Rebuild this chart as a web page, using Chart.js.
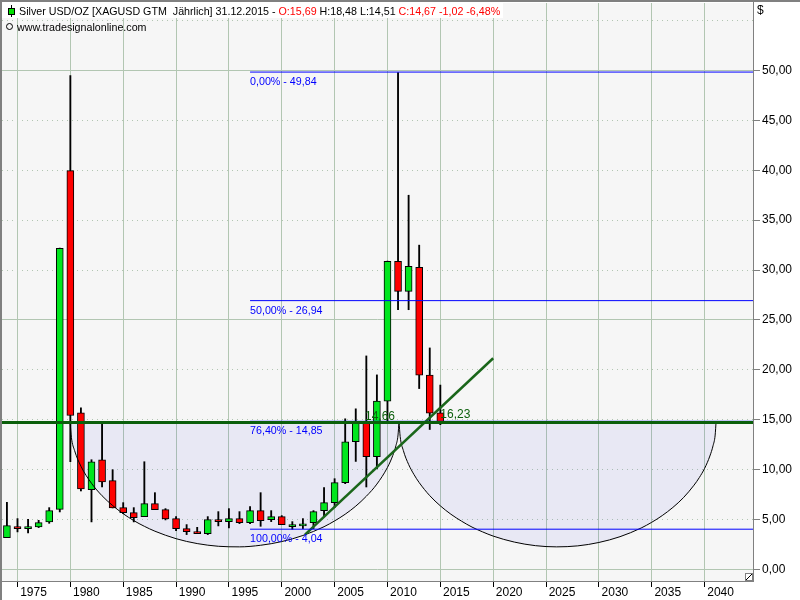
<!DOCTYPE html>
<html>
<head>
<meta charset="utf-8">
<title>Silver USD/OZ</title>
<script src="https://cdn.jsdelivr.net/npm/chart.js@4"></script>
<style>
html, body { margin: 0; padding: 0; background: #fff; }
canvas { display: block; }
</style>
</head>
<body>
<canvas id="chart" width="800" height="600"></canvas>
<script>
const years = [1974,1975,1976,1977,1978,1979,1980,1981,1982,1983,1984,1985,1986,1987,1988,1989,1990,1991,1992,1993,1994,1995,1996,1997,1998,1999,2000,2001,2002,2003,2004,2005,2006,2007,2008,2009,2010,2011,2012,2013,2014,2015];
const opens = [3.2,4.3,4.1,4.27,4.77,6.03,39.97,15.7,8.0,11.0,8.9,6.2,5.7,5.3,6.6,6.0,5.1,4.1,3.8,3.6,5.0,4.8,5.1,4.7,5.9,5.0,5.3,4.5,4.57,4.7,5.9,6.7,8.7,12.8,14.7,11.3,16.87,30.87,27.87,30.27,19.47,15.69];
const closes = [4.4,4.1,4.3,4.7,5.9,32.17,15.43,8.07,10.8,8.77,6.17,5.7,5.2,6.6,6.0,5.07,4.1,3.8,3.6,5.0,4.8,5.1,4.7,5.9,4.9,5.3,4.5,4.5,4.57,5.8,6.7,8.7,12.8,14.7,11.3,16.87,30.87,27.87,30.37,19.47,15.67,14.67];
const highs = [6.73,5.1,5.03,4.93,6.2,32.2,49.5,16.2,11.0,14.6,10.0,6.7,6.2,10.8,7.7,6.1,5.3,4.5,4.23,5.3,5.8,6.1,5.8,6.3,7.7,5.9,5.4,4.8,5.1,5.9,8.2,9.1,15.1,16.1,21.4,19.5,30.9,49.8,37.5,32.5,22.2,18.48];
const lows = [3.2,3.77,3.67,4.2,4.63,5.77,10.8,7.87,4.77,8.27,6.17,5.6,4.77,5.3,6.0,4.97,3.9,3.5,3.6,3.5,4.37,4.17,4.6,4.6,4.33,4.8,4.5,4.03,4.1,4.1,5.4,6.2,8.6,10.83,8.27,10.1,14.7,26.03,26.03,18.13,14.03,14.51];

const xTicks = [1975,1980,1985,1990,1995,2000,2005,2010,2015,2020,2025,2030,2035,2040];
const yTicks = [0,5,10,15,20,25,30,35,40,45,50];
const solidTicks = [0,25,50];
const dottedTicks = [5,10,15,20,30,35,40,45,55];

const fibValues = [49.84,26.94,14.85,4.04];
const fibLabels = ['0,00% - 49,84','50,00% - 26,94','76,40% - 14,85','100,00% - 4,04'];
const fibStart = 1997;
const supportLevel = 14.74;

const trendYears = [2002.2,2020];
const trendValues = [3.5,21.17];

const arc1Years = [1979.97,1980.1,1980.4,1981,1982,1983,1984,1985,1986,1987,1988,1990,1992,1994,1996,1998,2000,2002,2004,2005,2006,2007,2008,2009,2010,2010.5,2010.8,2011,2011.09];
const arc1Values = [14.85,13.23,11.92,10.35,8.64,7.39,6.41,5.59,4.9,4.33,3.84,3.09,2.6,2.33,2.27,2.43,2.8,3.41,4.29,4.87,5.54,6.35,7.34,8.56,10.23,11.42,12.41,13.48,14.85];
const arc2Years = [2011.09,2011.2,2011.5,2012,2012.5,2013,2014,2015,2016,2017,2018,2019,2020,2022,2024,2026,2028,2030,2032,2034,2035,2036,2037,2038,2039,2039.5,2040,2040.5,2040.8,2041,2041.09];
const arc2Values = [14.85,13.33,11.93,10.53,9.53,8.71,7.4,6.38,5.54,4.85,4.25,3.77,3.35,2.75,2.39,2.27,2.37,2.71,3.29,4.16,4.73,5.41,6.22,7.2,8.45,9.21,10.13,11.37,12.4,13.47,14.85];

const lowLabel = '14,66';
const lastLabel = '16,23';

const FONT = '12px "Liberation Sans", Arial, sans-serif';
const SMALL_FONT = '10.7px "Liberation Sans", Arial, sans-serif';
const GRID = '#b2c6b2';
const DARK_GREEN = '#0b5f0b';
const BLUE = '#0000ff';
const FILL = 'rgba(50,60,230,0.07)';

function pairs(xs, ys) {
    return xs.map((x, i) => ({x: x, y: ys[i]}));
}

function level(x0, x1, v, color, width) {
    return {
        type: 'line',
        data: pairs([x0, x1], [v, v]),
        borderColor: color,
        borderWidth: width,
        pointRadius: 0,
        order: 0
    };
}

function arc(xs, ys) {
    return {
        type: 'line',
        data: pairs(xs, ys),
        borderColor: '#000',
        borderWidth: 1,
        pointRadius: 0,
        cubicInterpolationMode: 'monotone',
        fill: {value: 14.85},
        backgroundColor: FILL,
        order: 1
    };
}

// no extra room for the tick labels, the plot area has to stay where it is
function noPadding(s) {
    s.paddingTop = 0;
    s.paddingBottom = 0;
    s.paddingLeft = 0;
    s.paddingRight = 0;
}

const xMin = 1973.534;
const xMax = 2044.58;

const frame = {
    id: 'frame',
    beforeDraw(chart) {
        const c = chart.ctx, a = chart.chartArea;
        c.save();
        c.fillStyle = '#fff';
        c.fillRect(0, 0, 800, 600);
        c.fillStyle = '#f6f6f6';
        c.fillRect(a.left, a.top, a.right - a.left, a.bottom - a.top);
        c.restore();
    },
    afterDraw(chart) {
        const c = chart.ctx, a = chart.chartArea;
        const x = chart.scales.x, y = chart.scales.y;
        c.save();
        // border
        c.fillStyle = '#808080';
        c.fillRect(0, 0, 800, 2);
        c.fillRect(0, 0, 2, 600);
        c.fillRect(a.right, 2, 1, a.bottom - 2);
        c.fillRect(2, a.bottom, a.right - 1, 1);

        // resize grip
        c.fillStyle = '#fff';
        c.fillRect(745, 573, 8, 8);
        c.strokeStyle = '#808080';
        c.strokeRect(745.5, 573.5, 7, 7);
        c.strokeStyle = '#000';
        c.beginPath();
        c.moveTo(746, 580);
        c.lineTo(752, 574);
        c.stroke();

        c.font = SMALL_FONT;
        c.textBaseline = 'alphabetic';

        // header
        c.fillStyle = '#fff';
        c.fillRect(2, 2, 501, 16);
        let tx = 19;
        const parts = [
            ['Silver USD/OZ [XAGUSD GTM  Jährlich] 31.12.2015 - ', '#000'],
            ['O:15,69 ', '#f00'],
            ['H:18,48 L:14,51 ', '#000'],
            ['C:14,67 -1,02 -6,48%', '#f00']
        ];
        parts.forEach(p => {
            c.fillStyle = p[1];
            c.fillText(p[0], tx, 15);
            tx += c.measureText(p[0]).width;
        });
        c.fillStyle = '#000';
        c.fillText('www.tradesignalonline.com', 17, 31);

        // header icon
        c.fillRect(11, 5, 1, 12);
        c.fillRect(8, 8, 7, 7);
        c.fillStyle = '#00e000';
        c.fillRect(9, 9, 5, 5);

        // copyright mark
        c.strokeStyle = '#000';
        c.beginPath();
        c.arc(9.5, 26.5, 3, 0, Math.PI * 2);
        c.stroke();

        // fibonacci labels
        c.fillStyle = BLUE;
        fibLabels.forEach((t, i) => {
            c.fillText(t, x.getPixelForValue(fibStart), y.getPixelForValue(fibValues[i]) + 13);
        });

        // value labels
        c.font = FONT;
        c.fillStyle = '#000';
        c.fillText('$', 757, 14);
        c.fillStyle = DARK_GREEN;
        c.fillText(lowLabel, x.getPixelForValue(2007.87), y.getPixelForValue(15.0));
        c.fillText(lastLabel, x.getPixelForValue(2015.0), y.getPixelForValue(15.2));
        c.restore();
    }
};

new Chart(document.getElementById('chart').getContext('2d'), {
    data: {
        datasets: [
            {
                type: 'bar',
                data: years.map((yr, i) => ({x: yr, y: [lows[i], highs[i]]})),
                backgroundColor: '#000',
                barThickness: 1.2,
                grouped: false,
                order: 3
            },
            {
                type: 'bar',
                data: years.map((yr, i) => ({x: yr, y: [opens[i], closes[i]]})),
                backgroundColor: years.map((yr, i) => closes[i] >= opens[i] ? '#00e61e' : '#ff0000'),
                borderColor: '#000',
                borderWidth: 1,
                borderSkipped: false,
                barThickness: 7,
                minBarLength: 2,
                grouped: false,
                order: 2
            },
            arc(arc1Years, arc1Values),
            arc(arc2Years, arc2Values),
            level(xMin, xMax, supportLevel, DARK_GREEN, 3),
            level(fibStart, xMax, fibValues[0], BLUE, 1),
            level(fibStart, xMax, fibValues[1], BLUE, 1),
            level(fibStart, xMax, fibValues[2], BLUE, 1),
            level(fibStart, xMax, fibValues[3], BLUE, 1),
            {
                type: 'line',
                data: pairs(trendYears, trendValues),
                borderColor: '#1a661a',
                borderWidth: 2.5,
                pointRadius: 0,
                order: 0
            }
        ]
    },
    plugins: [frame],
    options: {
        responsive: false,
        devicePixelRatio: 1,
        animation: false,
        layout: {padding: {left: 2, top: 3, right: 0, bottom: 0}},
        plugins: {
            legend: {display: false},
            tooltip: {enabled: false},
            filler: {drawTime: 'beforeDatasetsDraw'}
        },
        scales: {
            x: {
                type: 'linear',
                offset: false,
                min: xMin,
                max: xMax,
                afterBuildTicks: s => { s.ticks = xTicks.map(v => ({value: v})); },
                afterFit: s => { s.height = 19; noPadding(s); },
                grid: {offset: false, color: GRID, lineWidth: 1, tickColor: '#000', tickLength: 6},
                border: {display: false},
                ticks: {
                    autoSkip: false,
                    maxRotation: 0,
                    padding: -2,
                    labelOffset: 16,
                    color: '#000',
                    font: {family: '"Liberation Sans", Arial, sans-serif', size: 12},
                    callback: v => String(v)
                }
            },
            y: {
                position: 'right',
                min: -1.15,
                max: 56.76,
                afterBuildTicks: s => { s.ticks = yTicks.map(v => ({value: v})); },
                afterFit: s => { s.width = 47; noPadding(s); },
                grid: {
                    color: c => solidTicks.includes(c.tick.value) ? GRID : 'rgba(0,0,0,0)',
                    lineWidth: 1,
                    tickColor: '#808080',
                    tickLength: 7
                },
                border: {display: false},
                ticks: {
                    padding: 2,
                    color: '#000',
                    font: {family: '"Liberation Sans", Arial, sans-serif', size: 12},
                    callback: v => v.toFixed(2).replace('.', ',')
                }
            },
            dots: {
                position: 'left',
                min: -1.15,
                max: 56.76,
                afterBuildTicks: s => { s.ticks = dottedTicks.map(v => ({value: v})); },
                afterFit: s => { s.width = 0; noPadding(s); },
                grid: {color: GRID, lineWidth: 1, drawTicks: false},
                border: {display: false, dash: [1, 4]},
                ticks: {display: false}
            }
        }
    }
});
</script>
</body>
</html>
